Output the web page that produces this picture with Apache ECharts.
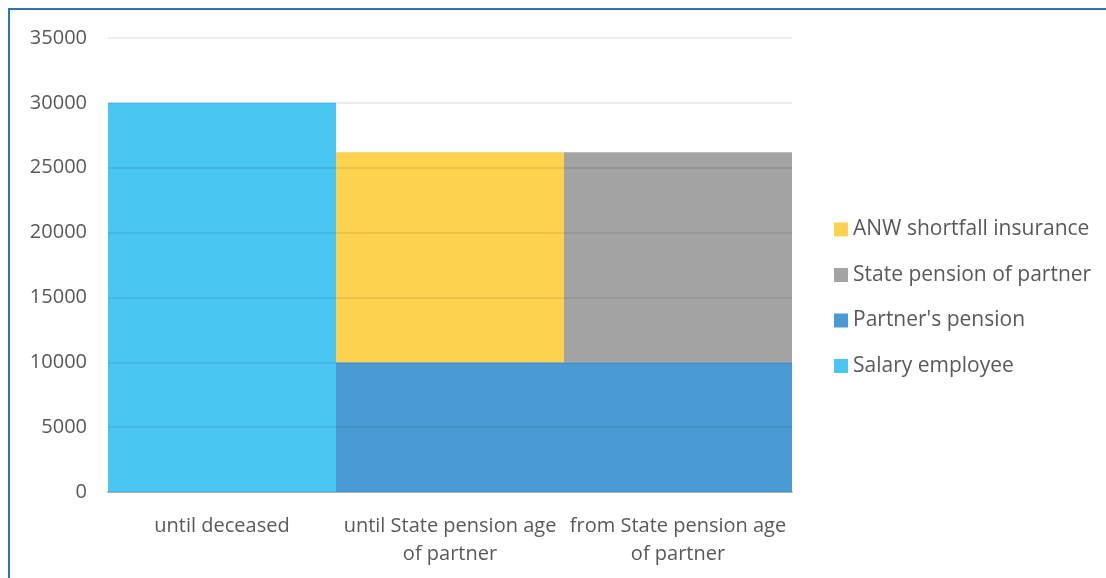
<!DOCTYPE html>
<html>
<head>
<meta charset="utf-8">
<script src="https://cdn.jsdelivr.net/npm/echarts@6/dist/echarts.min.js"></script>
<style>
  html, body { margin: 0; padding: 0; background: #fff; }
  #chart { width: 1106px; height: 578px; }
</style>
</head>
<body>
<div id="chart"></div>
<script>
const categories = ['until deceased', 'until State pension age of partner', 'from State pension age of partner'];
const salaryEmployee = [30000, 0, 0];
const partnersPension = [0, 10000, 10000];
const statePension = [0, 0, 16200];
const anwInsurance = [0, 16200, 0];
const yTicks = { min: 0, max: 35000, interval: 5000 };

const chart = echarts.init(document.getElementById('chart'));

function barSeries(name, data, color) {
  return {
    name: name,
    type: 'bar',
    stack: 'total',
    barCategoryGap: '0%',
    data: data,
    itemStyle: { color: color },
    emphasis: { disabled: true }
  };
}

chart.setOption({
  animation: false,
  textStyle: { fontFamily: 'Open Sans' },
  graphic: [{
    type: 'rect',
    shape: { x: 9, y: 9, width: 1200, height: 700 },
    style: { fill: 'none', stroke: '#2E75B6', lineWidth: 2 },
    z: 10
  }],
  grid: { left: 108, right: 314, top: 38, bottom: 86 },
  legend: {
    orient: 'vertical',
    left: 829,
    top: 214,
    itemWidth: 14,
    itemHeight: 14,
    itemGap: 24.5,
    icon: 'rect',
    textStyle: { fontSize: 21, color: '#595959', fontFamily: 'Open Sans' },
    data: ['ANW shortfall insurance', 'State pension of partner', "Partner's pension", 'Salary employee']
  },
  xAxis: {
    type: 'category',
    data: categories,
    axisTick: { show: false },
    axisLine: { lineStyle: { color: '#BFBFBF', width: 2 } },
    axisLabel: {
      color: '#595959',
      fontSize: 20,
      margin: 20,
      lineHeight: 28,
      interval: 0,
      formatter: v => v.replace(' of partner', '\nof partner')
    }
  },
  yAxis: {
    type: 'value',
    min: yTicks.min,
    max: yTicks.max,
    interval: yTicks.interval,
    z: 5,
    axisLine: { show: false },
    axisTick: { show: false },
    axisLabel: { color: '#595959', fontSize: 20, margin: 21, formatter: v => String(v) },
    splitLine: { lineStyle: { color: 'rgba(0,0,0,0.07)', width: 2 } }
  },
  series: [
    barSeries('Salary employee', salaryEmployee, '#4AC6F2'),
    barSeries("Partner's pension", partnersPension, '#4A9BD4'),
    barSeries('State pension of partner', statePension, '#A3A3A3'),
    barSeries('ANW shortfall insurance', anwInsurance, '#FDD24E')
  ]
});
</script>
</body>
</html>
